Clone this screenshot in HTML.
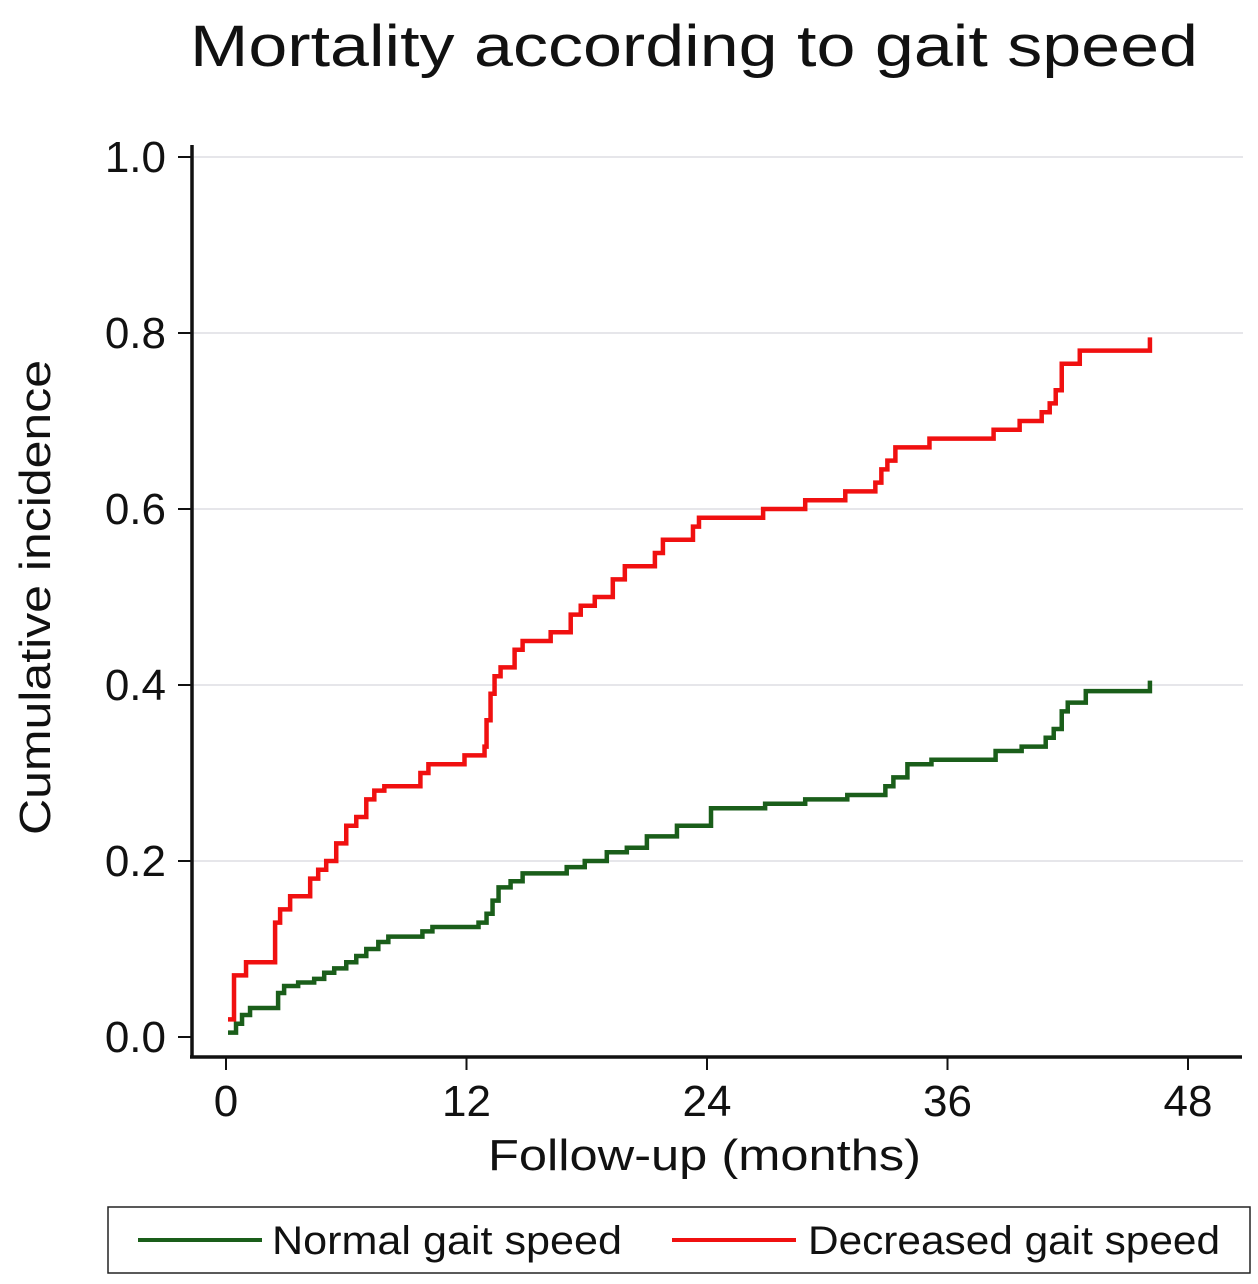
<!DOCTYPE html>
<html><head><meta charset="utf-8"><style>
body{margin:0;background:#fff;}
svg text{font-family:"Liberation Sans",sans-serif;fill:#111;}
</style></head><body>
<svg id="chart" width="1258" height="1279" xmlns="http://www.w3.org/2000/svg">
<text x="190" y="66" font-size="58" textLength="1008" lengthAdjust="spacingAndGlyphs">Mortality according to gait speed</text>
<g id="grid"></g>
<g id="axes"></g>
<g id="series"></g>
<text transform="translate(50,835) rotate(-90)" font-size="44" textLength="475" lengthAdjust="spacingAndGlyphs">Cumulative incidence</text>
<text x="488" y="1170" font-size="44" textLength="433" lengthAdjust="spacingAndGlyphs">Follow-up (months)</text>
<g>
<rect x="108" y="1207" width="1142" height="66" fill="#fff" stroke="#222" stroke-width="1.5"/>
<line x1="138" y1="1240" x2="262" y2="1240" stroke="#1a5e1a" stroke-width="4"/>
<text x="272" y="1254" font-size="40" textLength="350" lengthAdjust="spacingAndGlyphs">Normal gait speed</text>
<line x1="672" y1="1240" x2="796" y2="1240" stroke="#f01010" stroke-width="4"/>
<text x="808" y="1254" font-size="40" textLength="412" lengthAdjust="spacingAndGlyphs">Decreased gait speed</text>
</g>
</svg>
<script>
const yTicks=[0,0.2,0.4,0.6,0.8,1.0];
const yTickLabels=["0.0","0.2","0.4","0.6","0.8","1.0"];
const xTicks=[0,12,24,36,48];
const xTickLabels=["0","12","24","36","48"];
const normalT=[0.1,0.5,0.8,1.2,2.6,2.9,3.6,4.4,4.9,5.4,6.0,6.5,7.0,7.6,8.1,9.8,10.3,12.6,13.0,13.3,13.6,14.2,14.8,17.0,17.9,19.0,20.0,21.0,22.5,24.2,26.9,28.9,31.0,32.9,33.3,34.0,35.2,38.4,39.7,40.9,41.3,41.7,42.0,42.9,46.1];
const normalV=[0.005,0.015,0.025,0.033,0.05,0.058,0.062,0.066,0.073,0.078,0.085,0.092,0.100,0.108,0.114,0.120,0.125,0.130,0.14,0.155,0.17,0.177,0.186,0.193,0.20,0.21,0.215,0.228,0.24,0.26,0.265,0.27,0.275,0.285,0.295,0.31,0.315,0.325,0.33,0.34,0.35,0.37,0.38,0.393,0.405];
const decT=[0.1,0.4,1.0,2.45,2.7,3.2,4.2,4.6,5.0,5.5,6.0,6.5,7.0,7.4,7.9,9.7,10.1,11.9,12.9,13.0,13.2,13.4,13.7,14.4,14.8,16.2,17.2,17.7,18.4,19.3,19.9,21.4,21.8,23.3,23.6,26.8,28.9,30.9,32.4,32.7,33.0,33.4,35.1,38.3,39.6,40.7,41.1,41.4,41.7,42.6,46.1];
const decV=[0.02,0.07,0.085,0.13,0.145,0.16,0.18,0.19,0.20,0.22,0.24,0.25,0.27,0.28,0.285,0.30,0.31,0.32,0.33,0.36,0.39,0.41,0.42,0.44,0.45,0.46,0.48,0.49,0.50,0.52,0.535,0.55,0.565,0.58,0.59,0.60,0.61,0.62,0.63,0.645,0.655,0.67,0.68,0.69,0.70,0.71,0.72,0.735,0.765,0.78,0.795];
const NS="http://www.w3.org/2000/svg";
const xS=m=>226+m*(1188-226)/48;
const yS=v=>1037-v*880;
function mk(tag,attrs,parent){const e=document.createElementNS(NS,tag);for(const k in attrs)e.setAttribute(k,attrs[k]);parent.appendChild(e);return e;}
const grid=document.getElementById('grid'),axes=document.getElementById('axes'),series=document.getElementById('series');
yTicks.forEach((v,i)=>{
 if(v>0){const g=mk('line',{x1:193,x2:1243,y1:yS(v),y2:yS(v),stroke:'#e6e6ea','stroke-width':2},grid);
 
 }
 const t=mk('line',{x1:178,x2:192,y1:yS(v),y2:yS(v),stroke:'#111','stroke-width':2},axes);
 
 
 const l=mk('text',{x:166,y:yS(v)+15,'font-size':44,'text-anchor':'end'},axes);
 
 
 l.textContent=yTickLabels[i];
});
xTicks.forEach((m,i)=>{
 const t=mk('line',{x1:xS(m),x2:xS(m),y1:1057,y2:1070,stroke:'#111','stroke-width':2},axes);
 
 
 const l=mk('text',{x:xS(m),y:1116,'font-size':44,'text-anchor':'middle'},axes);
 
 
 l.textContent=xTickLabels[i];
});
const ya=mk('line',{x1:192,x2:192,y1:145,y2:1058,stroke:'#111','stroke-width':3.5},axes);


const xa=mk('line',{x1:190,x2:1242,y1:1057,y2:1057,stroke:'#111','stroke-width':3.5},axes);


function stepPath(T,V){let d='M'+xS(T[0])+','+yS(V[0]);for(let i=1;i<T.length;i++){d+=' H'+xS(T[i])+' V'+yS(V[i]);}return d;}
const pn=mk('path',{d:stepPath(normalT,normalV),fill:'none',stroke:'#1a5e1a','stroke-width':4.5},series);


const pd=mk('path',{d:stepPath(decT,decV),fill:'none',stroke:'#f01010','stroke-width':4.5},series);


</script>
</body></html>
